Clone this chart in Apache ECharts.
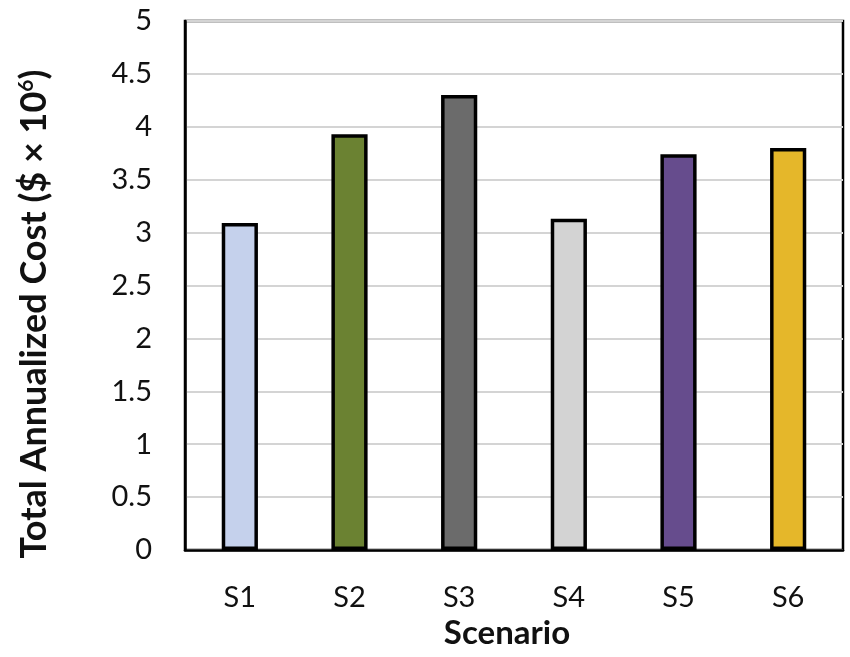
<!DOCTYPE html>
<html>
<head>
<meta charset="utf-8">
<script src="https://cdn.jsdelivr.net/npm/echarts@6/dist/echarts.min.js"></script>
<style>
  html, body { margin: 0; padding: 0; background: #fff; }
  #chart { width: 850px; height: 657px; }
</style>
</head>
<body>
<div id="chart"></div>
<script>
// Total annualized cost per scenario, in millions of dollars
const scenarios = ['S1', 'S2', 'S3', 'S4', 'S5', 'S6'];
const annualizedCost = [3.09, 3.93, 4.30, 3.13, 3.74, 3.80];
const barColors = ['#c5d1ec', '#6b8232', '#6b6b6b', '#d3d3d3', '#664c8d', '#e5b72a'];
const yTicks = [0, 0.5, 1, 1.5, 2, 2.5, 3, 3.5, 4, 4.5, 5];

const FONT = 'Lato, "Open Sans", sans-serif';

const chart = echarts.init(document.getElementById('chart'), null, { renderer: 'canvas' });

chart.setOption({
  animation: false,
  backgroundColor: '#ffffff',
  grid: {
    left: 185, right: 7, top: 21, bottom: 107,
    show: true, borderColor: '#000', borderWidth: 2.5
  },
  xAxis: {
    type: 'category',
    data: scenarios,
    axisLine: { show: true, lineStyle: { color: '#000', width: 2.5 } },
    axisTick: { show: false },
    axisLabel: { color: '#111', fontFamily: FONT, fontSize: 29, margin: 33 },
    name: 'Scenario',
    nameLocation: 'middle',
    nameGap: 67,
    nameTextStyle: { color: '#111', fontFamily: FONT, fontSize: 33, fontWeight: 'bold', padding: [0, 14, 0, 0] }
  },
  yAxis: {
    type: 'value',
    min: yTicks[0],
    max: yTicks[yTicks.length - 1],
    interval: 0.5,
    axisLine: { show: true, lineStyle: { color: '#000', width: 2.5 } },
    axisTick: { show: false },
    axisLabel: { color: '#111', fontFamily: FONT, fontSize: 29, margin: 33 },
    splitLine: { lineStyle: { color: '#d4d4d4', width: 2 } },
    name: '{t|Total Annualized Cost ($ × 10}{s|6}{t|)}',
    nameLocation: 'middle',
    nameGap: 133,
    nameRotate: 90,
    nameTextStyle: {
      padding: [0, 57, 0, 0],
      rich: {
        t: { color: '#111', fontFamily: FONT, fontSize: 36, fontWeight: 'bold' },
        s: { color: '#111', fontFamily: FONT, fontSize: 21, fontWeight: 'bold', verticalAlign: 'top', padding: [0, 0, 12, 0] }
      }
    }
  },
  series: [{
    type: 'bar',
    data: annualizedCost.map((v, i) => ({ value: v, itemStyle: { color: barColors[i] } })),
    barWidth: '33%',
    itemStyle: { borderColor: '#000', borderWidth: 3.5 }
  }]
});
</script>
</body>
</html>
